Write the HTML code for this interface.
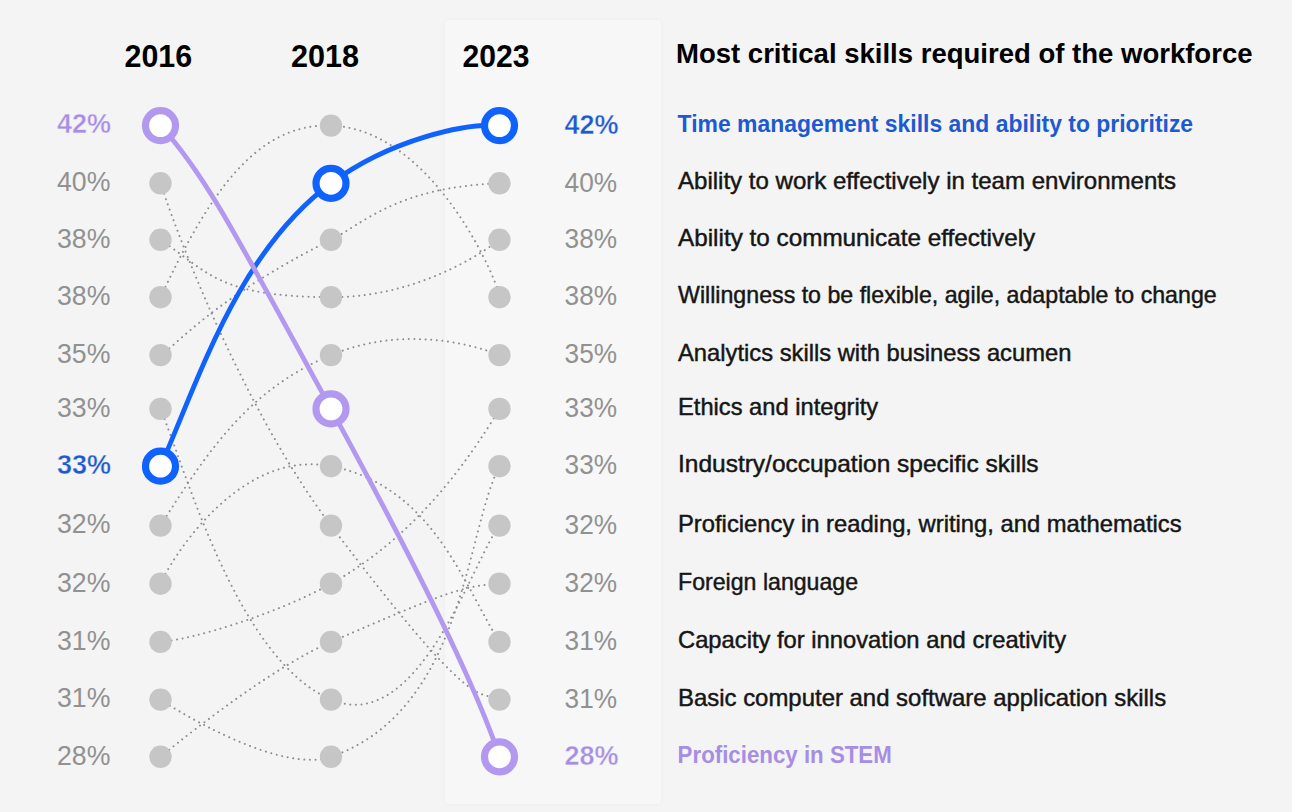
<!DOCTYPE html>
<html><head><meta charset="utf-8"><style>
html,body{margin:0;padding:0;background:#f4f4f4;}
body{width:1292px;height:812px;overflow:hidden;position:relative;font-family:"Liberation Sans",sans-serif;}
svg{position:absolute;left:0;top:0;}
.band{position:absolute;left:445px;top:20px;width:216px;height:784px;background:#f7f7f7;border-radius:4px;box-shadow:0 0 4px rgba(0,0,0,0.035);}
</style></head><body>
<div class="band"></div>
<svg width="1292" height="812" viewBox="0 0 1292 812">
<path d="M160.50,355.10C174.26,347.78 212.45,299.03 331.00,239.80C362.58,224.03 396.89,186.98 499.50,183.30" fill="none" stroke="#8d8d8d" stroke-width="2.0" stroke-dasharray="0.01 5.6" stroke-linecap="round"/>
<path d="M160.50,239.80C209.30,272.81 218.19,296.62 331.00,297.20C427.94,297.70 499.50,239.80 499.50,239.80" fill="none" stroke="#8d8d8d" stroke-width="2.0" stroke-dasharray="0.01 5.6" stroke-linecap="round"/>
<path d="M160.50,297.20C207.29,197.89 254.16,122.97 331.00,125.60C437.22,129.24 502.36,292.69 499.50,297.20" fill="none" stroke="#8d8d8d" stroke-width="2.0" stroke-dasharray="0.01 5.6" stroke-linecap="round"/>
<path d="M160.50,525.60C210.79,445.81 251.02,388.49 331.00,355.10C417.52,318.98 498.87,355.07 499.50,355.10" fill="none" stroke="#8d8d8d" stroke-width="2.0" stroke-dasharray="0.01 5.6" stroke-linecap="round"/>
<path d="M160.50,641.90C192.39,639.56 276.70,614.09 331.00,583.70C414.93,536.72 467.26,462.56 499.50,408.90" fill="none" stroke="#8d8d8d" stroke-width="2.0" stroke-dasharray="0.01 5.6" stroke-linecap="round"/>
<path d="M160.50,699.60C178.40,711.61 280.73,774.21 331.00,756.80C464.88,710.45 465.66,530.37 499.50,466.20" fill="none" stroke="#8d8d8d" stroke-width="2.0" stroke-dasharray="0.01 5.6" stroke-linecap="round"/>
<path d="M160.50,408.90C185.64,469.27 236.97,659.20 331.00,699.60C419.36,737.57 474.74,555.45 499.50,525.60" fill="none" stroke="#8d8d8d" stroke-width="2.0" stroke-dasharray="0.01 5.6" stroke-linecap="round"/>
<path d="M160.50,756.80C201.80,722.97 277.69,665.01 331.00,641.90C447.88,591.24 462.99,586.07 499.50,583.70" fill="none" stroke="#8d8d8d" stroke-width="2.0" stroke-dasharray="0.01 5.6" stroke-linecap="round"/>
<path d="M160.50,583.70C168.55,564.29 236.89,448.02 331.00,466.20C433.10,485.92 464.45,587.09 499.50,641.90" fill="none" stroke="#8d8d8d" stroke-width="2.0" stroke-dasharray="0.01 5.6" stroke-linecap="round"/>
<path d="M160.50,183.30C187.78,265.26 253.00,422.11 331.00,525.60C475.76,717.67 478.04,689.65 499.50,699.60" fill="none" stroke="#8d8d8d" stroke-width="2.0" stroke-dasharray="0.01 5.6" stroke-linecap="round"/>
<circle cx="160.5" cy="183.3" r="11.2" fill="#c6c6c6"/>
<circle cx="160.5" cy="239.8" r="11.2" fill="#c6c6c6"/>
<circle cx="160.5" cy="297.2" r="11.2" fill="#c6c6c6"/>
<circle cx="160.5" cy="355.1" r="11.2" fill="#c6c6c6"/>
<circle cx="160.5" cy="408.9" r="11.2" fill="#c6c6c6"/>
<circle cx="160.5" cy="525.6" r="11.2" fill="#c6c6c6"/>
<circle cx="160.5" cy="583.7" r="11.2" fill="#c6c6c6"/>
<circle cx="160.5" cy="641.9" r="11.2" fill="#c6c6c6"/>
<circle cx="160.5" cy="699.6" r="11.2" fill="#c6c6c6"/>
<circle cx="160.5" cy="756.8" r="11.2" fill="#c6c6c6"/>
<circle cx="331.0" cy="125.6" r="11.2" fill="#c6c6c6"/>
<circle cx="331.0" cy="239.8" r="11.2" fill="#c6c6c6"/>
<circle cx="331.0" cy="297.2" r="11.2" fill="#c6c6c6"/>
<circle cx="331.0" cy="355.1" r="11.2" fill="#c6c6c6"/>
<circle cx="331.0" cy="466.2" r="11.2" fill="#c6c6c6"/>
<circle cx="331.0" cy="525.6" r="11.2" fill="#c6c6c6"/>
<circle cx="331.0" cy="583.7" r="11.2" fill="#c6c6c6"/>
<circle cx="331.0" cy="641.9" r="11.2" fill="#c6c6c6"/>
<circle cx="331.0" cy="699.6" r="11.2" fill="#c6c6c6"/>
<circle cx="331.0" cy="756.8" r="11.2" fill="#c6c6c6"/>
<circle cx="499.5" cy="183.3" r="11.2" fill="#c6c6c6"/>
<circle cx="499.5" cy="239.8" r="11.2" fill="#c6c6c6"/>
<circle cx="499.5" cy="297.2" r="11.2" fill="#c6c6c6"/>
<circle cx="499.5" cy="355.1" r="11.2" fill="#c6c6c6"/>
<circle cx="499.5" cy="408.9" r="11.2" fill="#c6c6c6"/>
<circle cx="499.5" cy="466.2" r="11.2" fill="#c6c6c6"/>
<circle cx="499.5" cy="525.6" r="11.2" fill="#c6c6c6"/>
<circle cx="499.5" cy="583.7" r="11.2" fill="#c6c6c6"/>
<circle cx="499.5" cy="641.9" r="11.2" fill="#c6c6c6"/>
<circle cx="499.5" cy="699.6" r="11.2" fill="#c6c6c6"/>
<path d="M160.50,466.20C198.72,379.73 237.64,252.50 331.00,183.30C390.48,139.21 466.54,122.81 499.50,125.60" fill="none" stroke="#0f62fe" stroke-width="4.8"/>
<path d="M160.50,125.60C205.65,175.10 236.63,236.24 331.00,408.90C414.75,562.14 474.32,680.82 499.50,756.80" fill="none" stroke="#b398f0" stroke-width="4.8"/>
<circle cx="160.5" cy="466.2" r="15" fill="#fff" stroke="#0f62fe" stroke-width="7.2"/>
<circle cx="331.0" cy="183.3" r="15" fill="#fff" stroke="#0f62fe" stroke-width="7.2"/>
<circle cx="499.5" cy="125.6" r="15" fill="#fff" stroke="#0f62fe" stroke-width="7.2"/>
<circle cx="160.5" cy="125.6" r="15" fill="#fff" stroke="#b398f0" stroke-width="7.2"/>
<circle cx="331.0" cy="408.9" r="15" fill="#fff" stroke="#b398f0" stroke-width="7.2"/>
<circle cx="499.5" cy="756.8" r="15" fill="#fff" stroke="#b398f0" stroke-width="7.2"/>
<text x="124.5" y="66.8" font-family="Liberation Sans, sans-serif" font-weight="bold" font-size="31.6" fill="#000" textLength="67.6" lengthAdjust="spacingAndGlyphs">2016</text>
<text x="291.1" y="66.8" font-family="Liberation Sans, sans-serif" font-weight="bold" font-size="31.6" fill="#000" textLength="68.0" lengthAdjust="spacingAndGlyphs">2018</text>
<text x="462.5" y="66.8" font-family="Liberation Sans, sans-serif" font-weight="bold" font-size="31.6" fill="#000" textLength="66.9" lengthAdjust="spacingAndGlyphs">2023</text>
<text x="676" y="63.4" font-family="Liberation Sans, sans-serif" font-weight="bold" font-size="27.4" fill="#000" textLength="576.5" lengthAdjust="spacingAndGlyphs">Most critical skills required of the workforce</text>
<text x="111" y="133.4" font-family="Liberation Sans, sans-serif" font-weight="bold" font-size="27" fill="#a68ee4" stroke="#f4f4f4" stroke-width="0.4" text-anchor="end" textLength="54" lengthAdjust="spacingAndGlyphs">42%</text>
<text x="110.4" y="191.1" font-family="Liberation Sans, sans-serif" font-weight="normal" font-size="27" fill="#919191" text-anchor="end" textLength="53.4" lengthAdjust="spacingAndGlyphs">40%</text>
<text x="110.4" y="247.6" font-family="Liberation Sans, sans-serif" font-weight="normal" font-size="27" fill="#919191" text-anchor="end" textLength="53.4" lengthAdjust="spacingAndGlyphs">38%</text>
<text x="110.4" y="305.0" font-family="Liberation Sans, sans-serif" font-weight="normal" font-size="27" fill="#919191" text-anchor="end" textLength="53.4" lengthAdjust="spacingAndGlyphs">38%</text>
<text x="110.4" y="362.9" font-family="Liberation Sans, sans-serif" font-weight="normal" font-size="27" fill="#919191" text-anchor="end" textLength="53.4" lengthAdjust="spacingAndGlyphs">35%</text>
<text x="110.4" y="416.7" font-family="Liberation Sans, sans-serif" font-weight="normal" font-size="27" fill="#919191" text-anchor="end" textLength="53.4" lengthAdjust="spacingAndGlyphs">33%</text>
<text x="111" y="474.0" font-family="Liberation Sans, sans-serif" font-weight="bold" font-size="27" fill="#1d5ad0" stroke="#f4f4f4" stroke-width="0.4" text-anchor="end" textLength="54" lengthAdjust="spacingAndGlyphs">33%</text>
<text x="110.4" y="533.4" font-family="Liberation Sans, sans-serif" font-weight="normal" font-size="27" fill="#919191" text-anchor="end" textLength="53.4" lengthAdjust="spacingAndGlyphs">32%</text>
<text x="110.4" y="591.5" font-family="Liberation Sans, sans-serif" font-weight="normal" font-size="27" fill="#919191" text-anchor="end" textLength="53.4" lengthAdjust="spacingAndGlyphs">32%</text>
<text x="110.4" y="649.7" font-family="Liberation Sans, sans-serif" font-weight="normal" font-size="27" fill="#919191" text-anchor="end" textLength="53.4" lengthAdjust="spacingAndGlyphs">31%</text>
<text x="110.4" y="707.4" font-family="Liberation Sans, sans-serif" font-weight="normal" font-size="27" fill="#919191" text-anchor="end" textLength="53.4" lengthAdjust="spacingAndGlyphs">31%</text>
<text x="110.4" y="764.6" font-family="Liberation Sans, sans-serif" font-weight="normal" font-size="27" fill="#919191" text-anchor="end" textLength="53.4" lengthAdjust="spacingAndGlyphs">28%</text>
<text x="564.6" y="133.8" font-family="Liberation Sans, sans-serif" font-weight="bold" font-size="27" fill="#1d5ad0" stroke="#f7f7f7" stroke-width="0.4" textLength="54" lengthAdjust="spacingAndGlyphs">42%</text>
<text x="564.6" y="191.5" font-family="Liberation Sans, sans-serif" font-weight="normal" font-size="27" fill="#919191" textLength="52.5" lengthAdjust="spacingAndGlyphs">40%</text>
<text x="564.6" y="248.0" font-family="Liberation Sans, sans-serif" font-weight="normal" font-size="27" fill="#919191" textLength="52.5" lengthAdjust="spacingAndGlyphs">38%</text>
<text x="564.6" y="305.4" font-family="Liberation Sans, sans-serif" font-weight="normal" font-size="27" fill="#919191" textLength="52.5" lengthAdjust="spacingAndGlyphs">38%</text>
<text x="564.6" y="363.3" font-family="Liberation Sans, sans-serif" font-weight="normal" font-size="27" fill="#919191" textLength="52.5" lengthAdjust="spacingAndGlyphs">35%</text>
<text x="564.6" y="417.1" font-family="Liberation Sans, sans-serif" font-weight="normal" font-size="27" fill="#919191" textLength="52.5" lengthAdjust="spacingAndGlyphs">33%</text>
<text x="564.6" y="474.4" font-family="Liberation Sans, sans-serif" font-weight="normal" font-size="27" fill="#919191" textLength="52.5" lengthAdjust="spacingAndGlyphs">33%</text>
<text x="564.6" y="533.8" font-family="Liberation Sans, sans-serif" font-weight="normal" font-size="27" fill="#919191" textLength="52.5" lengthAdjust="spacingAndGlyphs">32%</text>
<text x="564.6" y="591.9" font-family="Liberation Sans, sans-serif" font-weight="normal" font-size="27" fill="#919191" textLength="52.5" lengthAdjust="spacingAndGlyphs">32%</text>
<text x="564.6" y="650.1" font-family="Liberation Sans, sans-serif" font-weight="normal" font-size="27" fill="#919191" textLength="52.5" lengthAdjust="spacingAndGlyphs">31%</text>
<text x="564.6" y="707.8" font-family="Liberation Sans, sans-serif" font-weight="normal" font-size="27" fill="#919191" textLength="52.5" lengthAdjust="spacingAndGlyphs">31%</text>
<text x="564.6" y="765.0" font-family="Liberation Sans, sans-serif" font-weight="bold" font-size="27" fill="#a68ee4" stroke="#f7f7f7" stroke-width="0.4" textLength="54" lengthAdjust="spacingAndGlyphs">28%</text>
<text x="677.6" y="131.6" font-family="Liberation Sans, sans-serif" font-weight="bold" font-size="23.6" fill="#1d5ad0" textLength="515.5" lengthAdjust="spacingAndGlyphs">Time management skills and ability to prioritize</text>
<text x="678.0" y="189.3" font-family="Liberation Sans, sans-serif" font-weight="normal" font-size="23.6" fill="#161616" stroke="#161616" stroke-width="0.45" textLength="498.0" lengthAdjust="spacingAndGlyphs">Ability to work effectively in team environments</text>
<text x="678.0" y="245.8" font-family="Liberation Sans, sans-serif" font-weight="normal" font-size="23.6" fill="#161616" stroke="#161616" stroke-width="0.45" textLength="357.2" lengthAdjust="spacingAndGlyphs">Ability to communicate effectively</text>
<text x="678.0" y="303.2" font-family="Liberation Sans, sans-serif" font-weight="normal" font-size="23.6" fill="#161616" stroke="#161616" stroke-width="0.45" textLength="538.7" lengthAdjust="spacingAndGlyphs">Willingness to be flexible, agile, adaptable to change</text>
<text x="678.0" y="361.1" font-family="Liberation Sans, sans-serif" font-weight="normal" font-size="23.6" fill="#161616" stroke="#161616" stroke-width="0.45" textLength="393.4" lengthAdjust="spacingAndGlyphs">Analytics skills with business acumen</text>
<text x="678.0" y="414.9" font-family="Liberation Sans, sans-serif" font-weight="normal" font-size="23.6" fill="#161616" stroke="#161616" stroke-width="0.45" textLength="200.2" lengthAdjust="spacingAndGlyphs">Ethics and integrity</text>
<text x="678.0" y="472.2" font-family="Liberation Sans, sans-serif" font-weight="normal" font-size="23.6" fill="#161616" stroke="#161616" stroke-width="0.45" textLength="360.6" lengthAdjust="spacingAndGlyphs">Industry/occupation specific skills</text>
<text x="678.0" y="531.6" font-family="Liberation Sans, sans-serif" font-weight="normal" font-size="23.6" fill="#161616" stroke="#161616" stroke-width="0.45" textLength="503.6" lengthAdjust="spacingAndGlyphs">Proficiency in reading, writing, and mathematics</text>
<text x="678.0" y="589.7" font-family="Liberation Sans, sans-serif" font-weight="normal" font-size="23.6" fill="#161616" stroke="#161616" stroke-width="0.45" textLength="180.1" lengthAdjust="spacingAndGlyphs">Foreign language</text>
<text x="678.0" y="647.9" font-family="Liberation Sans, sans-serif" font-weight="normal" font-size="23.6" fill="#161616" stroke="#161616" stroke-width="0.45" textLength="388.1" lengthAdjust="spacingAndGlyphs">Capacity for innovation and creativity</text>
<text x="678.0" y="705.6" font-family="Liberation Sans, sans-serif" font-weight="normal" font-size="23.6" fill="#161616" stroke="#161616" stroke-width="0.45" textLength="488.1" lengthAdjust="spacingAndGlyphs">Basic computer and software application skills</text>
<text x="677.6" y="762.8" font-family="Liberation Sans, sans-serif" font-weight="bold" font-size="23.6" fill="#a68ee4" textLength="214.2" lengthAdjust="spacingAndGlyphs">Proficiency in STEM</text>
</svg>
</body></html>
